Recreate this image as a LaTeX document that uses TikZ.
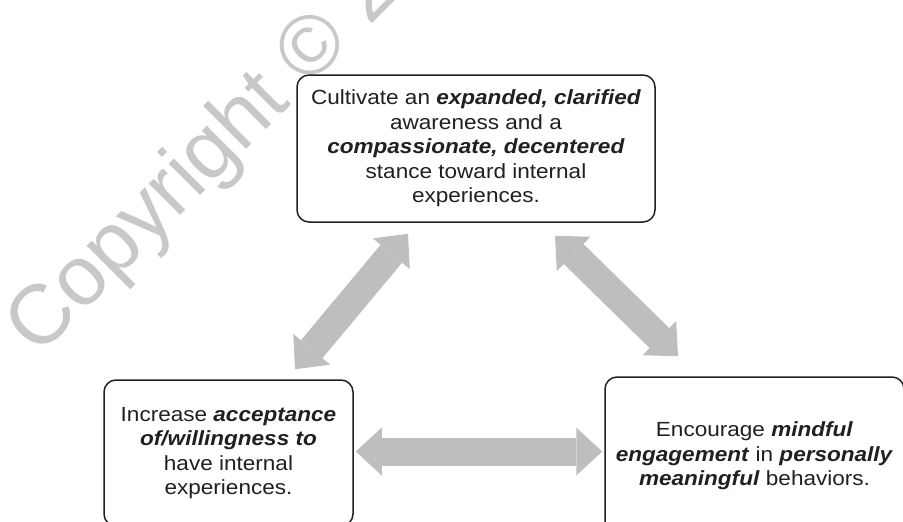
\documentclass[tikz,border=0pt]{standalone}
\usepackage{fontspec}
\setmainfont{Liberation Sans}[FakeStretch=1.1]
\newfontfamily\wmfont{Liberation Sans}
\usetikzlibrary{arrows.meta,calc}
\definecolor{arrowgray}{HTML}{BCBEC0}
\definecolor{wmgray}{HTML}{C8C8C8}
\definecolor{ink}{HTML}{231F20}
\newcommand{\bi}[1]{\textbf{\textit{#1}}}
\begin{document}
\begin{tikzpicture}[x=1pt,y=-1pt,
  box/.style={draw=ink, line width=1.5pt, rounded corners=12pt, fill=white,
    align=center, inner sep=0pt, text=ink,
    font=\fontsize{20.5}{24.5}\selectfont},
  bigarrow/.style={draw=arrowgray, line width=28pt,
    {Triangle[length=26pt,width=48pt,line width=0pt]}-{Triangle[length=26pt,width=48pt,line width=0pt]}},
  watermark/.style={font=\wmfont\fontsize{84}{84}\selectfont, text=wmgray,
    rotate=45, anchor=base west, inner sep=0pt}]
\useasboundingbox (0,0) rectangle (903,522);
\clip (0,0) rectangle (903,522);
\node[watermark] (wm) at (38,358) {Copyright © 2019};
\node[box, minimum width=358pt, minimum height=147pt] (T) at (476,148.5)
  {Cultivate an \bi{expanded, clarified}\\ awareness and a\\ \bi{compassionate, decentered}\\ stance toward internal\\ experiences.};
\node[box, minimum width=249pt, minimum height=146pt] (L) at (228.5,453)
  {Increase \bi{acceptance}\\ \bi{of/willingness to}\\ have internal\\ experiences.};
\node[box, minimum width=299pt, minimum height=158pt] (R) at (754.5,456)
  {Encourage \bi{mindful}\\ \bi{engagement} in \bi{personally}\\ \bi{meaningful} behaviors.};
\coordinate (tl) at ([xshift=-68pt,yshift=-11pt]T.south);
\coordinate (tr) at ([xshift=79pt,yshift=-13pt]T.south);
\coordinate (lt) at ([xshift=66.5pt,yshift=10pt]L.north);
\coordinate (rt) at ([xshift=-76.5pt,yshift=20pt]R.north);
\coordinate (lr) at ([xshift=2pt,yshift=1.5pt]L.east);
\coordinate (rl) at ([xshift=-2pt]R.west |- lr);
\draw[bigarrow] (lt) -- (tl);
\draw[bigarrow] (tr) -- (rt);
\draw[bigarrow] (lr) -- (rl);
\end{tikzpicture}
\end{document}
